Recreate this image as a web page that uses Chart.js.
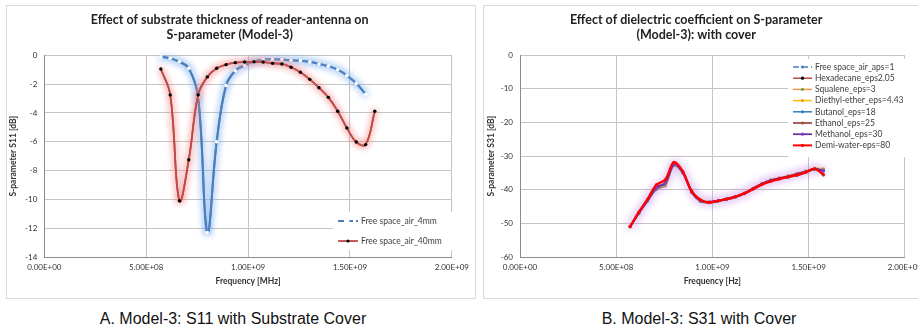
<!DOCTYPE html>
<html>
<head>
<meta charset="utf-8">
<script src="https://cdn.jsdelivr.net/npm/chart.js"></script>
<style>
body{margin:0;width:918px;height:333px;overflow:hidden;background:#fff;position:relative;font-family:"Liberation Sans",Arial,sans-serif}
.frame{position:absolute;top:5px;height:292px;border:1px solid #d9d9d9;background:#fff}
#boxA{left:6px;width:468px}
#boxB{left:483px;width:444px}
.caption{position:absolute;top:310px;font-size:16px;line-height:18px;color:#111;text-align:center;width:460px}
#capA{left:3px}
#capB{left:469px}
</style>
</head>
<body>
<div class="frame" id="boxA"><canvas id="chartA" width="468" height="292"></canvas></div>
<div class="frame" id="boxB"><canvas id="chartB" width="444" height="292"></canvas></div>
<div class="caption" id="capA">A. Model-3: S11 with Substrate Cover</div>
<div class="caption" id="capB">B. Model-3: S31 with Cover</div>
<script>
// frequency points (Hz), shared by both charts
const freqHz = [5.72e8, 6.18e8, 6.63e8, 7.09e8, 7.55e8, 8.00e8, 8.46e8, 8.92e8, 9.37e8, 9.83e8,
  1.029e9, 1.074e9, 1.120e9, 1.166e9, 1.211e9, 1.257e9, 1.303e9, 1.348e9, 1.394e9, 1.440e9,
  1.485e9, 1.531e9, 1.577e9, 1.622e9]

// chart A : S11
const s11_4mm = [-0.1, -0.2, -0.45, -0.9, -2.9, -12.3, -6.0, -2.1, -1.07, -0.7, -0.42, -0.3, -0.28, -0.3,
  -0.35, -0.37, -0.45, -0.6, -0.75, -1.0, -1.4, -1.95, -2.7]
const s11_40mm = [-0.95, -2.75, -10.1, -7.25, -2.75, -1.5, -0.9, -0.65, -0.51, -0.47, -0.45, -0.47, -0.56,
  -0.6, -0.83, -1.18, -1.67, -2.25, -2.92, -3.88, -5.04, -6.02, -6.2, -3.88]

// chart B : S31
const s31_air = [-51.0, -47.1, -43.4, -39.9, -38.8, -32.8, -35.1, -40.9, -43.5, -43.9, -43.4, -42.9, -42.2, -41.2, -39.8, -38.4, -37.4, -36.8, -36.2, -35.6, -34.8, -33.9, -34.6]
const s31_hexa = [-51.0, -46.9, -43.2, -39.8, -38.7, -32.7, -34.9, -40.6, -43.3, -43.8, -43.4, -42.8, -42.1, -41.1, -39.7, -38.3, -37.3, -36.7, -36.1, -35.4, -34.7, -33.8, -34.2]
const s31_squa = [-51.0, -46.8, -43.1, -39.6, -38.9, -32.6, -34.7, -40.3, -43.0, -43.7, -43.3, -42.7, -42.0, -41.0, -39.6, -38.2, -37.1, -36.5, -35.9, -35.2, -34.5, -33.7, -33.9]
const s31_ether = [-51.0, -46.7, -43.0, -39.4, -38.6, -32.4, -34.6, -40.2, -42.9, -43.6, -43.2, -42.6, -41.9, -40.9, -39.5, -38.1, -37.0, -36.4, -35.8, -35.1, -34.4, -33.6, -33.7]
const s31_buta = [-51.0, -47.0, -43.3, -39.7, -38.3, -32.5, -35.0, -40.8, -43.4, -43.8, -43.4, -42.9, -42.2, -41.2, -39.8, -38.3, -37.4, -36.8, -36.3, -35.8, -34.9, -33.9, -34.1]
const s31_etha = [-51.0, -46.9, -43.1, -39.5, -38.1, -32.2, -34.9, -40.6, -43.3, -43.8, -43.3, -42.8, -42.1, -41.1, -39.7, -38.3, -37.3, -36.7, -36.1, -35.4, -34.6, -33.7, -35.7]
const s31_meth = [-51.0, -46.8, -43.2, -39.3, -38.0, -32.3, -34.8, -40.3, -43.2, -43.6, -43.2, -42.7, -42.0, -41.0, -39.6, -38.2, -37.2, -36.6, -36.0, -35.3, -34.6, -33.8, -34.4]
const s31_water = [-51.0, -46.6, -42.8, -38.5, -37.0, -31.8, -34.5, -40.5, -43.0, -43.8, -43.3, -42.8, -42.1, -41.1, -39.8, -38.5, -37.5, -36.8, -36.2, -35.6, -34.8, -33.8, -35.4]

// x tick positions and labels (same for both)
const xTicks = [0, 5e8, 1e9, 1.5e9, 2e9]
const xTickLabels = ["0.00E+00", "5.00E+08", "1.00E+09", "1.50E+09", "2.00E+09"]

const pts = (vals) => vals.map((v, i) => ({x: freqHz[i], y: v}))

const tickFont = {family: "Lato", size: 8}
const tickColor = "#333"
const gridColor = "#c4c4c4"

// soft halo around a series (stroked twice for a fuller glow)
const glow = {
  id: "glow",
  beforeDatasetDraw(chart, args) {
    const ds = chart.data.datasets[args.index]
    if (!ds.glowColor) return
    const ctx = chart.ctx
    ctx.save()
    ctx.shadowColor = ds.glowColor
    ctx.shadowBlur = ds.glowBlur || 8
    args.meta.dataset.draw(ctx, chart.chartArea)
  },
  afterDatasetDraw(chart, args) {
    if (chart.data.datasets[args.index].glowColor) chart.ctx.restore()
  }
}

// legend box drawn inside the plot
const boxLegend = {
  id: "boxLegend",
  afterDatasetsDraw(chart, args, o) {
    const ctx = chart.ctx
    ctx.save()
    ctx.fillStyle = "#fff"
    ctx.fillRect(o.x, o.y, o.w, o.h)
    ctx.font = o.font
    ctx.textBaseline = "middle"
    chart.data.datasets.forEach((ds, i) => {
      const y = o.first + i * o.rowH
      const x = o.x + o.pad
      ctx.strokeStyle = ds.borderColor
      ctx.lineWidth = Math.min(ds.borderWidth, 2)
      ctx.setLineDash(ds.legendDash || [])
      ctx.beginPath()
      ctx.moveTo(x, y)
      ctx.lineTo(x + o.lineW, y)
      ctx.stroke()
      ctx.setLineDash([])
      if (ds.pointRadius > 0) {
        ctx.fillStyle = ds.pointBackgroundColor
        ctx.beginPath()
        ctx.arc(x + o.lineW / 2, y, 1.6, 0, Math.PI * 2)
        ctx.fill()
      }
      ctx.fillStyle = "#404040"
      ctx.fillText(ds.label, x + o.lineW + 3, y)
    })
    ctx.restore()
  }
}

const xScale = (title) => ({
  type: "linear", min: 0, max: 2e9,
  afterBuildTicks: s => { s.ticks = xTicks.map(v => ({value: v})) },
  afterFit: s => { s.height = 41 },
  ticks: {callback: (v, i) => xTickLabels[i], font: tickFont, color: tickColor, padding: 6, maxRotation: 0, autoSkip: false},
  grid: {color: gridColor, drawTicks: false},
  border: {color: "#8c8c8c"},
  title: {display: true, text: title, color: "#333", font: {family: "Lato", size: 8.5, weight: "bold"}, padding: {top: 0, bottom: 12}}
})

const yScale = (min, step, width, title, tpad) => ({
  min: min, max: 0,
  afterFit: s => { s.width = width },
  ticks: {stepSize: step, font: tickFont, color: tickColor, padding: 7},
  grid: {color: gridColor, drawTicks: false},
  border: {color: "#8c8c8c"},
  title: {display: true, text: title, color: "#333", font: {family: "Lato", size: 8.5, weight: "bold"}, padding: {top: tpad, bottom: 0}}
})

const titleOpts = (lines) => ({
  display: true, text: lines, color: "#222",
  font: {family: "Lato", size: 12.5, weight: "bold", lineHeight: 1.2},
  padding: {top: 6.5, bottom: 12.8}
})

new Chart(document.getElementById("chartA"), {
  type: "line",
  data: {
    datasets: [
      {label: "Free space_air_4mm", data: pts(s11_4mm), borderColor: "#4a7ebb", borderWidth: 2,
        pointRadius: 1.8, pointBackgroundColor: "#fff", pointBorderWidth: 0, tension: 0.4,
        glowColor: "rgba(120,170,235,1)", glowBlur: 7, legendDash: [6, 3], order: 1},
      {label: "Free space_air_40mm", data: pts(s11_40mm), borderColor: "#be4b48", borderWidth: 1.8,
        pointRadius: 1.7, pointBackgroundColor: "#000", pointBorderWidth: 0, tension: 0.4,
        glowColor: "rgba(240,130,130,1)", glowBlur: 7, order: 0}
    ]
  },
  options: {
    responsive: false, animation: false, events: [],
    layout: {padding: {left: 0, right: 22.7, top: 0, bottom: 0}},
    scales: {
      x: xScale("Frequency [MHz]"),
      y: yScale(-14, 2, 37.3, "S-parameter S11 [dB]", 1.4)
    },
    plugins: {
      legend: {display: false},
      tooltip: {enabled: false},
      title: titleOpts(["Effect of substrate thickness of reader-antenna on", "S-parameter (Model-3)"]),
      boxLegend: {x: 326, y: 206, w: 119, h: 38, pad: 5, lineW: 20, first: 215, rowH: 20, font: "8.5px Lato"}
    }
  },
  plugins: [glow, boxLegend]
})

const seriesB = [
  ["Free space_air_aps=1", s31_air, "#4a7ebb", "#4a7ebb", 1.5],
  ["Hexadecane_eps2.05", s31_hexa, "#be4b48", "#000", 1.5],
  ["Squalene_eps=3", s31_squa, "#f79646", "#6aa84f", 1.5],
  ["Diethyl-ether_eps=4.43", s31_ether, "#ffc000", "#f29b1a", 1.5],
  ["Butanol_eps=18", s31_buta, "#2f7fc1", "#2f7fc1", 1.5],
  ["Ethanol_eps=25", s31_etha, "#8c2a2a", "#a0522d", 1.5],
  ["Methanol_eps=30", s31_meth, "#7030a0", "#8040c0", 1.8],
  ["Demi-water-eps=80", s31_water, "#ff0000", "#ff0000", 2.4]
]

new Chart(document.getElementById("chartB"), {
  type: "line",
  data: {
    datasets: seriesB.map((s, i) => ({
      label: s[0], data: pts(s[1]), borderColor: s[2], pointBackgroundColor: s[3], borderWidth: s[4],
      pointRadius: 1.4, pointBorderWidth: 0, tension: 0.3, order: 8 - i,
      legendDash: i == 0 ? [6, 3] : null,
      glowColor: i == 6 ? "rgba(185,125,225,1)" : null, glowBlur: 8
    }))
  },
  options: {
    responsive: false, animation: false, events: [],
    layout: {padding: {left: 0, right: 19.7, top: 0, bottom: 0}},
    scales: {
      x: xScale("Frequency [Hz]"),
      y: yScale(-60, 10, 36, "S-parameter S31 [dB]", 2.6)
    },
    plugins: {
      legend: {display: false},
      tooltip: {enabled: false},
      title: titleOpts(["Effect of dielectric coefficient on S-parameter", "(Model-3): with cover"]),
      boxLegend: {x: 304, y: 53, w: 120, h: 98, pad: 5, lineW: 19, first: 61, rowH: 11.2, font: "8.5px Lato"}
    }
  },
  plugins: [glow, boxLegend]
})
</script>
</body>
</html>
